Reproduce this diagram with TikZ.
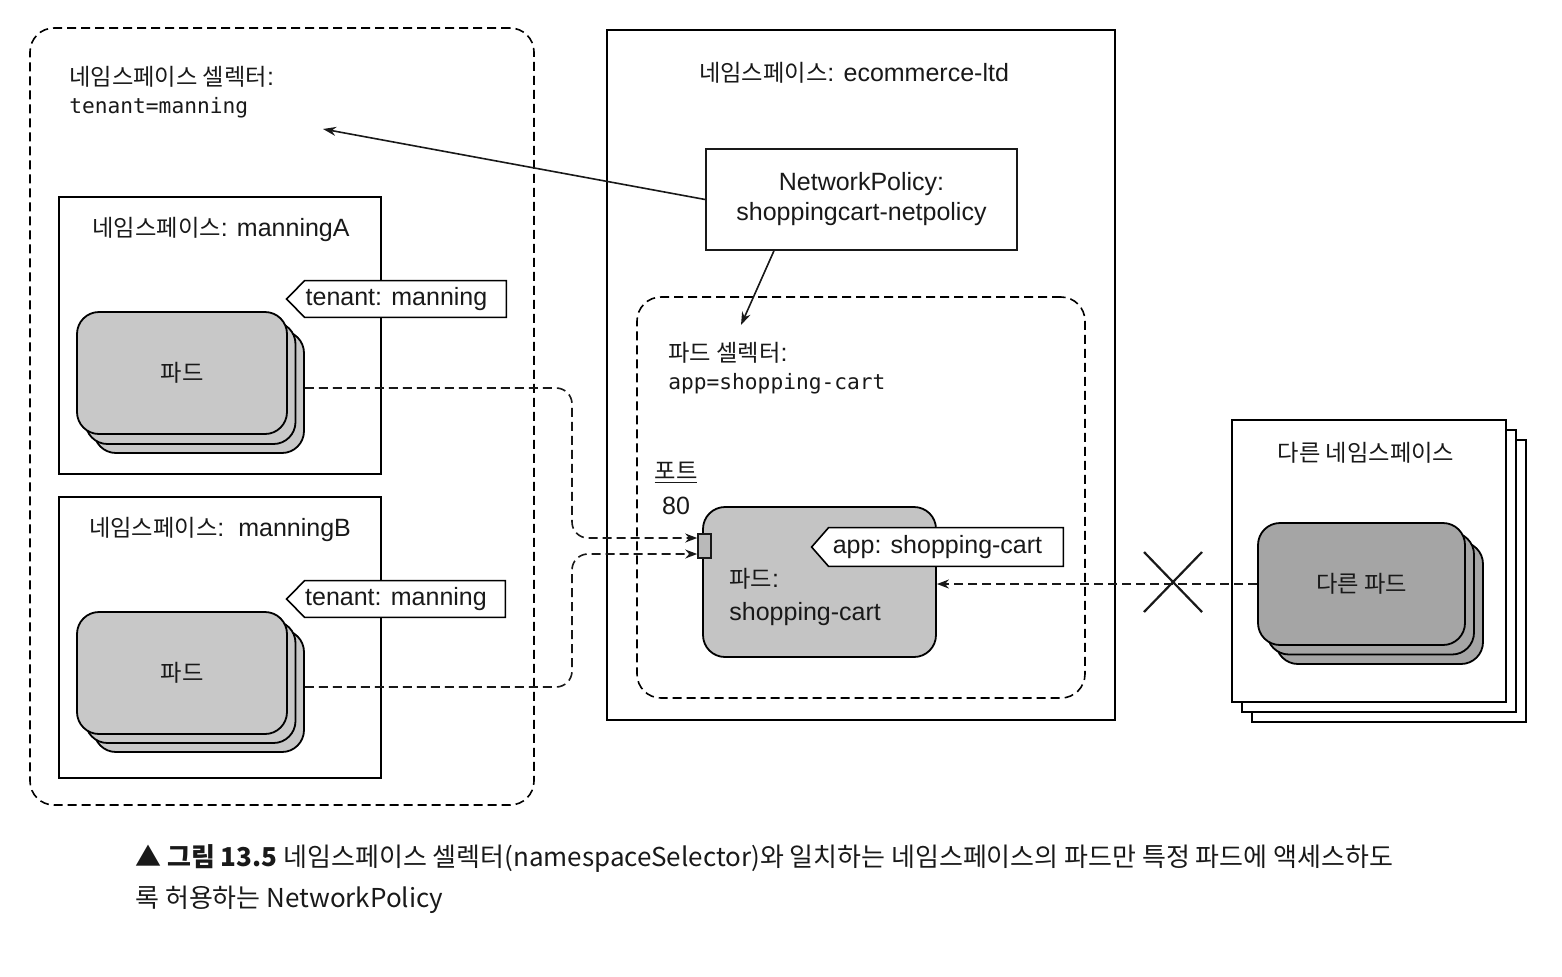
\documentclass[tikz,border=0pt]{standalone}
\usepackage{fontspec}
\setmainfont{Liberation Sans}
\setmonofont{DejaVu Sans Mono}
\newfontfamily\kr[Scale=0.93]{Noto Sans CJK KR}
\newfontfamily\krcap{Noto Sans CJK KR}
\usetikzlibrary{arrows.meta,calc}
\pgfdeclarelayer{bg}
\pgfdeclarelayer{mid}
\pgfsetlayers{bg,mid,main}
\definecolor{inkc}{RGB}{25,25,25}
\definecolor{podlight}{RGB}{200,200,200}
\definecolor{podcart}{RGB}{196,196,196}
\definecolor{poddark}{RGB}{165,165,165}
\definecolor{portgray}{RGB}{185,185,185}
\begin{document}
\begin{tikzpicture}[x=0.5pt,y=-0.5pt,
  font=\fontsize{12.5}{15}\selectfont, color=inkc,
  txt/.style={inner sep=0pt},
  mono/.style={font=\fontsize{10.6}{13}\ttfamily},
  nsbox/.style={draw, line width=0.8pt, fill=white, inner sep=0pt},
  frame/.style={draw, line width=0.8pt, dash pattern=on 4.5pt off 2.5pt, rounded corners=12pt, inner sep=0pt},
  podcard/.style={draw, line width=0.9pt, rounded corners=11pt, inner sep=0pt},
  tagtxt/.style={inner sep=0pt, minimum height=18pt},
  tagpoly/.style={draw, line width=0.8pt, fill=white},
  conn/.style={line width=0.8pt, dash pattern=on 4.5pt off 2.5pt, rounded corners=8pt, -{Stealth[length=6pt,width=4.5pt]}},
  arr/.style={line width=0.8pt, -{Stealth[length=6.5pt,width=4.5pt]}}
]
\useasboundingbox (0,0) rectangle (1562,976);

\begin{pgfonlayer}{bg}
% namespace selector frame
\node[frame, minimum width=252pt, minimum height=388.5pt] (nssel) at (282,416.5) {};
% namespace boxes
\node[nsbox, minimum width=161pt, minimum height=138.5pt] (nsA) at (220,335.5) {};
\node[nsbox, minimum width=161pt, minimum height=140.5pt] (nsB) at (220,637.5) {};
\node[nsbox, minimum width=254pt, minimum height=345pt] (ecom) at (861,375) {};
\node[frame, minimum width=224pt, minimum height=200.5pt] (podsel) at (861,497.5) {};
% other namespaces (stack)
\node[nsbox, minimum width=137pt, minimum height=141pt] (oth3) at (1389,581) {};
\node[nsbox, minimum width=137pt, minimum height=141pt] (oth2) at (1379,571) {};
\node[nsbox, minimum width=137pt, minimum height=141pt] (othns) at (1369,561) {};
% pods A
\node[podcard, fill=podlight, minimum width=105pt, minimum height=61pt] (podA3) at (199,392) {};
\node[podcard, fill=podlight, minimum width=105pt, minimum height=61pt] (podA2) at (190.5,383) {};
\node[podcard, fill=podlight, minimum width=105pt, minimum height=61pt] (podA) at (182,373) {\kr 파드};
% pods B
\node[podcard, fill=podlight, minimum width=105pt, minimum height=61pt] (podB3) at (199,691) {};
\node[podcard, fill=podlight, minimum width=105pt, minimum height=61pt] (podB2) at (190.5,682) {};
\node[podcard, fill=podlight, minimum width=105pt, minimum height=61pt] (podB) at (182,673) {\kr 파드};
% cart pod
\node[podcard, fill=podcart, minimum width=116.5pt, minimum height=75pt] (cart) at (819.5,582) {};
% other pods
\node[podcard, fill=poddark, minimum width=103.5pt, minimum height=61pt] (oth3p) at (1379.5,603) {};
\node[podcard, fill=poddark, minimum width=103.5pt, minimum height=61pt] (oth2p) at (1370.5,593.5) {};
\node[podcard, fill=poddark, minimum width=103.5pt, minimum height=61pt] (othpod) at (1361.5,584) {\kr 다른 파드};
\end{pgfonlayer}

% texts
\node[txt, anchor=west] (nsseltitle) at (69,77) {{\kr 네임스페이스 셀렉터}:};
\node[txt, anchor=west, mono] (nsselval) at (69,108) {tenant=manning};
\node[txt] (nsAtitle) at (221,229) {{\kr 네임스페이스}: manningA};
\node[txt] (nsBtitle) at (220,529) {{\kr 네임스페이스}:\ \ manningB};
\node[txt] (ecomtitle) at (854,73) {{\kr 네임스페이스}: ecommerce-ltd};
\node[nsbox, minimum width=155.5pt, minimum height=50.5pt, align=center] (np) at (861.5,199.5) {NetworkPolicy:\\shoppingcart-netpolicy};
\node[txt, anchor=west] (podseltitle) at (668,353) {{\kr 파드 셀렉터}:};
\node[txt, anchor=west, mono] (podselval) at (668,384) {app=shopping-cart};
\node[txt] (portlbl) at (676,473) {\kr\underline{포트}};
\node[txt] (portnum) at (676,506) {80};
\node[txt, anchor=west, align=left] (cartlbl) at (729,597) {{\kr 파드}:\\[1.5pt]shopping-cart};
\node[txt] (othtitle) at (1366,453) {\kr 다른 네임스페이스};

% port
\node[draw, line width=0.8pt, fill=portgray, minimum width=6.5pt, minimum height=12pt, inner sep=0pt] (port) at (704.5,546) {};

% tags
\node[tagtxt, minimum width=109.5pt] (tagA) at (396.5,299) {tenant: manning};
\node[tagtxt, minimum width=109pt] (tagB) at (396,599) {tenant: manning};
\node[tagtxt, minimum width=125.5pt, minimum height=19pt] (tagC) at (937.5,547) {app: shopping-cart};
\begin{pgfonlayer}{mid}
\draw[tagpoly] (tagA.west) -- ($(tagA.north west)+(18,0)$) -- (tagA.north east) -- (tagA.south east) -- ($(tagA.south west)+(18,0)$) -- cycle;
\draw[tagpoly] (tagB.west) -- ($(tagB.north west)+(18,0)$) -- (tagB.north east) -- (tagB.south east) -- ($(tagB.south west)+(18,0)$) -- cycle;
\draw[tagpoly] (tagC.west) -- ($(tagC.north west)+(17,0)$) -- (tagC.north east) -- (tagC.south east) -- ($(tagC.south west)+(17,0)$) -- cycle;
\end{pgfonlayer}

% connectors
\coordinate (nsselpt) at (323,129);
\coordinate (pselpt) at (741,325);
\draw[arr] (np.west) -- (nsselpt);
\draw[arr] ($(np.south west)!0.22!(np.south east)$) -- (pselpt);
\coordinate (jA) at (572,460);
\coordinate (jB) at (572,620);
\draw[conn] ($(podA3.east)+(0,-4)$) -| (jA) |- ($(port.west)+(0,-8)$);
\draw[conn] ($(podB3.east)+(0,-4)$) -| (jB) |- ($(port.west)+(0,8)$);
\draw[conn] (othpod.west) -- (othpod.west -| cart.east);
\coordinate (xm) at (1173,582);
\draw[line width=1.1pt] ($(xm)+(-29,-30)$) -- ($(xm)+(29,30)$);
\draw[line width=1.1pt] ($(xm)+(-29,30)$) -- ($(xm)+(29,-30)$);

% caption
\node[txt, anchor=west, font=\krcap\fontsize{13}{15}\selectfont] (cap1) at (135,858) {▲ {\bfseries 그림 13.5} 네임스페이스 셀렉터(namespaceSelector)와 일치하는 네임스페이스의 파드만 특정 파드에 액세스하도};
\node[txt, anchor=west, font=\krcap\fontsize{13}{15}\selectfont] (cap2) at (135,900) {록 허용하는 NetworkPolicy};
\end{tikzpicture}
\end{document}
